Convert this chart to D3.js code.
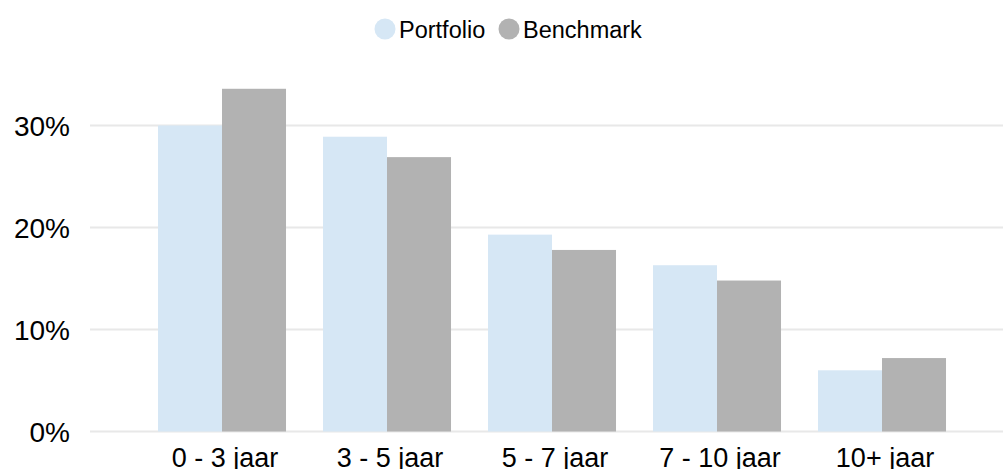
<!DOCTYPE html>
<html>
<head>
<meta charset="utf-8">
<script src="https://cdn.jsdelivr.net/npm/d3@7"></script>
<style>
  body { margin: 0; background: #fff; }
  svg text { font-family: "Liberation Sans", Arial, sans-serif; fill: #000; }
</style>
</head>
<body>
<div id="chart"></div>
<script>
// chart data
const categories = ["0 - 3 jaar", "3 - 5 jaar", "5 - 7 jaar", "7 - 10 jaar", "10+ jaar"];
const seriesNames = ["Portfolio", "Benchmark"];
const portfolio = [30.0, 28.9, 19.3, 16.3, 6.0];
const benchmark = [33.6, 26.9, 17.8, 14.8, 7.2];
const yTicks = [0, 10, 20, 30];
const colors = ["#d6e7f5", "#b2b2b2"];

const width = 1003, height = 469;
const plot = {left: 90, right: 1014, top: 60, bottom: 431.5};

const svg = d3.select("#chart").append("svg")
    .attr("width", width)
    .attr("height", height);

const x = d3.scaleBand()
    .domain(categories)
    .range([plot.left, plot.right])
    .paddingInner(0.224)
    .paddingOuter(0.412);

const x1 = d3.scaleBand()
    .domain(seriesNames)
    .range([0, x.bandwidth()]);

const y = d3.scaleLinear()
    .domain([0, 36.5])
    .range([plot.bottom, plot.bottom - 36.5 * 10.2]);

// gridlines
svg.append("g")
    .selectAll("line")
    .data(yTicks)
    .join("line")
    .attr("x1", plot.left)
    .attr("x2", width)
    .attr("y1", d => y(d))
    .attr("y2", d => y(d))
    .attr("stroke", "#e8e8e8")
    .attr("stroke-width", 2);

// y axis labels
const yAxis = d3.axisLeft(y).tickValues(yTicks).tickFormat(d => d + "%").tickSize(0).tickPadding(0);
svg.append("g")
    .attr("transform", "translate(70,0)")
    .call(yAxis)
    .call(g => g.select(".domain").remove())
    .selectAll("text")
    .style("font-size", "28px")
    .attr("dy", "0.35em");

// bars
const rows = categories.map((c, i) => ({cat: c, values: [portfolio[i], benchmark[i]]}));
svg.append("g")
    .selectAll("g")
    .data(rows)
    .join("g")
    .attr("transform", d => `translate(${x(d.cat)},0)`)
    .selectAll("rect")
    .data(d => d.values.map((v, j) => ({name: seriesNames[j], value: v, j: j})))
    .join("rect")
    .attr("x", d => x1(d.name))
    .attr("width", x1.bandwidth())
    .attr("y", d => y(d.value))
    .attr("height", d => y(0) - y(d.value))
    .attr("fill", d => colors[d.j]);

// x axis labels
const xAxis = d3.axisBottom(x).tickSize(0).tickPadding(0);
svg.append("g")
    .attr("transform", `translate(0,${plot.bottom})`)
    .call(xAxis)
    .call(g => g.select(".domain").remove())
    .selectAll("text")
    .style("font-size", "27px")
    .attr("x", 3)
    .attr("y", 35)
    .attr("dy", 0);

// legend
const legendX = [385, 509];
const legend = svg.append("g");
seriesNames.forEach((name, i) => {
    legend.append("circle")
        .attr("cx", legendX[i])
        .attr("cy", 29)
        .attr("r", 10.5)
        .attr("fill", colors[i]);
    legend.append("text")
        .attr("x", legendX[i] + 14)
        .attr("y", 37.5)
        .style("font-size", "23.5px")
        .text(name);
});
</script>
</body>
</html>
